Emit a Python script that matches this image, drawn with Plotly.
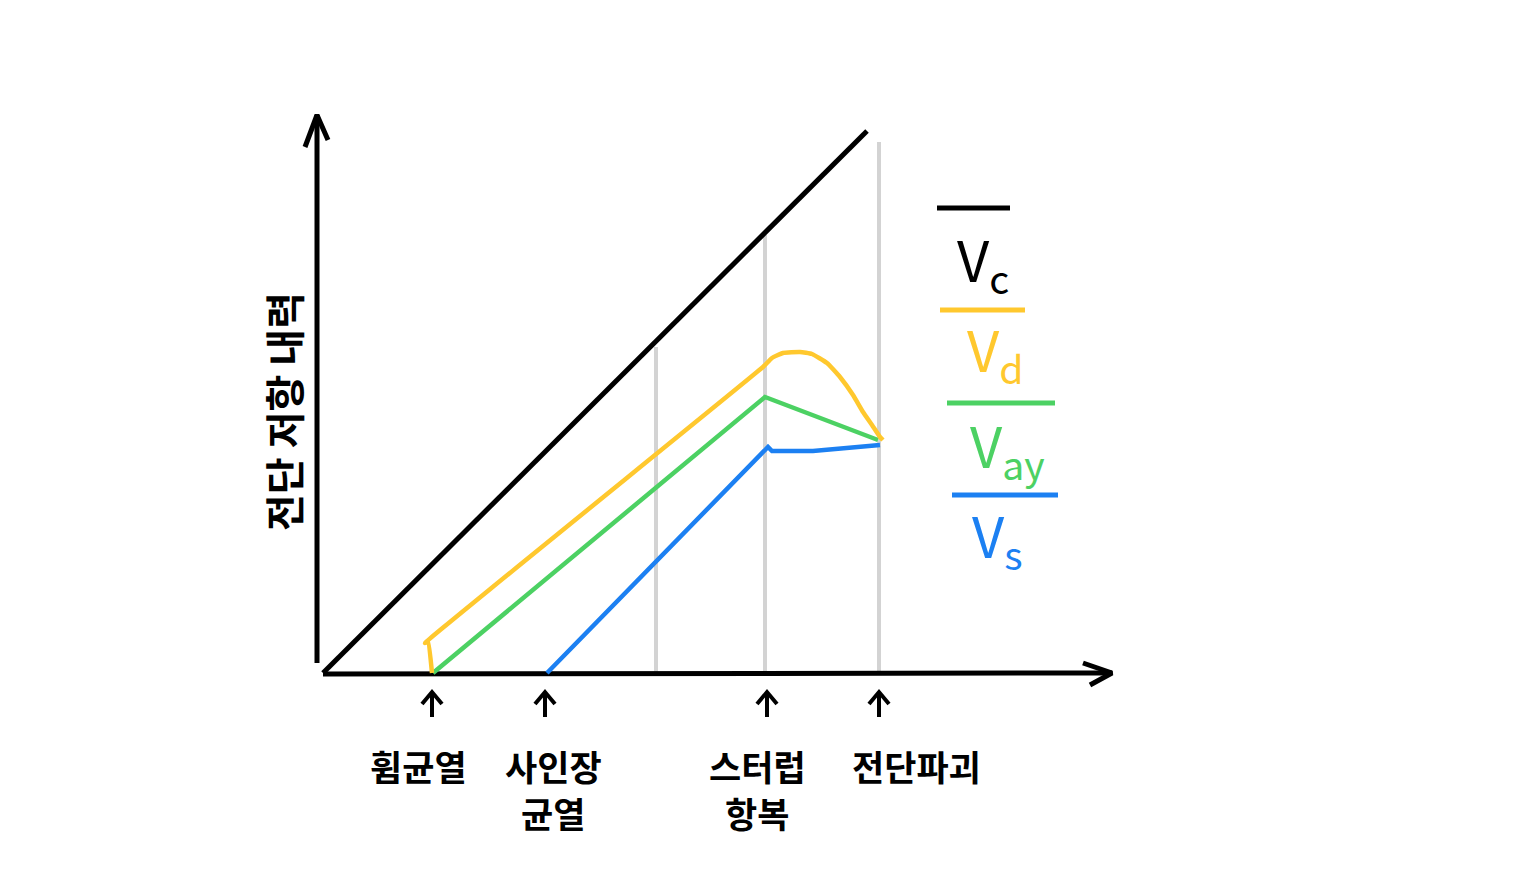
import plotly.graph_objects as go

# ---- data (diagram units, origin at axis origin) ----
stage_x = [109, 222, 444, 556]
stage_label_line1 = ["휨균열", "사인장", "스터럽", "전단파괴"]
stage_label_line2 = ["", "균열", "항복", ""]
label_x = [95, 230, 434, 593]

gray_x = [333, 442, 556]
gray_top = [326, 438, 531]

vc_x = [0, 544]
vc_y = [0, 542]

vd_x = [109, 105, 102, 440, 449, 460, 477, 489, 504, 517, 530, 540, 549, 557, 560]
vd_y = [0, 31, 30, 306, 315, 320, 321, 319, 310, 296, 278, 261, 248, 236, 233]

vay_x = [110, 442, 555]
vay_y = [0, 276, 233]

vs_x = [224, 440, 445, 449, 490, 557]
vs_y = [0, 220, 226, 222, 222, 228]

legend_names = ["V<sub>c</sub>", "V<sub>d</sub>", "V<sub>ay</sub>", "V<sub>s</sub>"]
legend_colors = ["#000000", "#FFC82E", "#4CD163", "#1C80F2"]
legend_bar_x0 = [614, 617, 624, 629]
legend_bar_x1 = [687, 702, 732, 735]
legend_bar_y = [465, 363, 270, 178]
legend_text_x = [660, 672, 684, 674]
legend_text_y = [412, 322, 226, 136]

y_title = "전단 저항 내력"

FONT = "Noto Sans CJK KR"

fig = go.Figure()

# gray stage lines
for gx, gt in zip(gray_x, gray_top):
    fig.add_trace(go.Scatter(x=[gx, gx], y=[-2, gt], mode="lines",
                             line=dict(color="#D3D3D3", width=4), hoverinfo="skip"))

# axes
fig.add_trace(go.Scatter(x=[-6, -6], y=[10, 558], mode="lines",
                         line=dict(color="black", width=5), hoverinfo="skip"))
fig.add_trace(go.Scatter(x=[-18, -6, 5], y=[526, 558, 533], mode="lines",
                         line=dict(color="black", width=5), hoverinfo="skip"))
fig.add_trace(go.Scatter(x=[0, 789], y=[-1, 0], mode="lines",
                         line=dict(color="black", width=5), hoverinfo="skip"))
fig.add_trace(go.Scatter(x=[760, 789, 767], y=[10, 0, -12], mode="lines",
                         line=dict(color="black", width=5), hoverinfo="skip"))

# stage arrows (open chevrons)
for sx in stage_x:
    fig.add_trace(go.Scatter(x=[sx, sx], y=[-44, -19], mode="lines",
                             line=dict(color="black", width=4), hoverinfo="skip"))
    fig.add_trace(go.Scatter(x=[sx - 10, sx, sx + 10], y=[-31, -19, -31], mode="lines",
                             line=dict(color="black", width=4), hoverinfo="skip"))

# series
fig.add_trace(go.Scatter(x=vs_x, y=vs_y, mode="lines",
                         line=dict(color=legend_colors[3], width=4.5), hoverinfo="skip"))
fig.add_trace(go.Scatter(x=vay_x, y=vay_y, mode="lines",
                         line=dict(color=legend_colors[2], width=4.5), hoverinfo="skip"))
fig.add_trace(go.Scatter(x=vd_x, y=vd_y, mode="lines",
                         line=dict(color=legend_colors[1], width=4.5, shape="spline", smoothing=0.4),
                         hoverinfo="skip"))
fig.add_trace(go.Scatter(x=vc_x, y=vc_y, mode="lines",
                         line=dict(color="black", width=5), hoverinfo="skip"))

annotations = []
# stage labels
for lx, l1, l2 in zip(label_x, stage_label_line1, stage_label_line2):
    annotations.append(dict(x=lx, y=-92, xref="x", yref="y", text="<b>" + l1 + "</b>",
                            showarrow=False, xanchor="center", yanchor="middle",
                            font=dict(family=FONT, size=35, color="black")))
    if l2:
        annotations.append(dict(x=lx, y=-139, xref="x", yref="y", text="<b>" + l2 + "</b>",
                                showarrow=False, xanchor="center", yanchor="middle",
                                font=dict(family=FONT, size=35, color="black")))

# y title
annotations.append(dict(x=-40, y=261, xref="x", yref="y", text="<b>" + y_title + "</b>",
                        showarrow=False, textangle=-90,
                        font=dict(family=FONT, size=40, color="black")))

# legend-like labels
shapes = []
for name, col, x0, x1, by, tx, ty in zip(legend_names, legend_colors, legend_bar_x0,
                                         legend_bar_x1, legend_bar_y, legend_text_x, legend_text_y):
    shapes.append(dict(type="line", xref="x", yref="y", x0=x0, x1=x1, y0=by, y1=by,
                       line=dict(color=col, width=5)))
    annotations.append(dict(x=tx, y=ty, xref="x", yref="y", text=name, showarrow=False,
                            xanchor="center", yanchor="middle",
                            font=dict(family=FONT, size=56, color=col)))

fig.update_layout(
    width=1536, height=870, autosize=False,
    margin=dict(l=0, r=0, t=0, b=0),
    paper_bgcolor="white", plot_bgcolor="white",
    showlegend=False,
    xaxis=dict(range=[-323, 1213], visible=False, fixedrange=True),
    yaxis=dict(range=[-197, 673], visible=False, fixedrange=True),
    annotations=annotations, shapes=shapes,
)

fig.write_html("out.html", config={"displayModeBar": False})
